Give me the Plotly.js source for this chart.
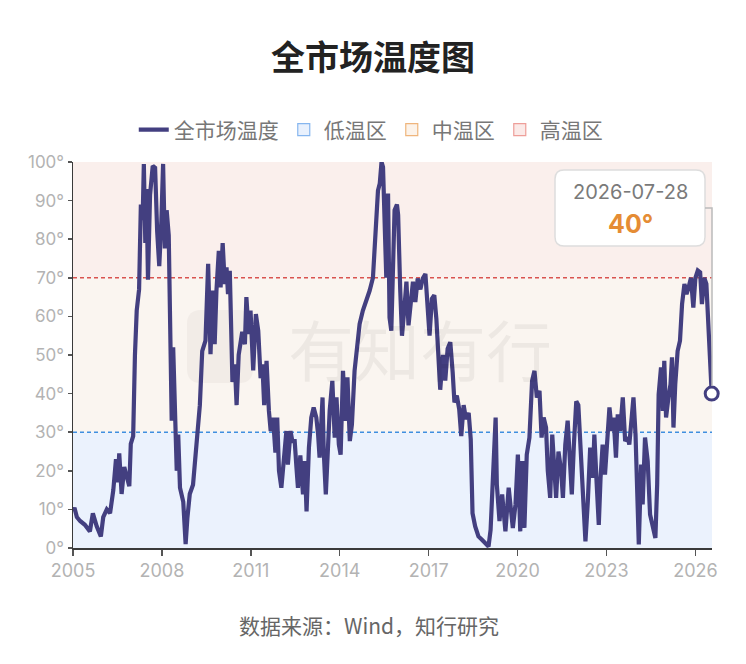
<!DOCTYPE html>
<html>
<head>
<meta charset="utf-8">
<script src="https://cdn.plot.ly/plotly-3.0.1.min.js"></script>
<style>
html,body{margin:0;padding:0;background:#fff;}
#chart{width:746px;height:664px;}
</style>
</head>
<body>
<div id="chart"></div>
<script>
// ---- data ----
var years = [2005.00,2005.05,2005.13,2005.24,2005.40,2005.51,2005.57,2005.67,2005.80,2005.94,2006.02,2006.14,2006.25,2006.36,2006.45,2006.51,2006.56,2006.64,2006.73,2006.81,2006.90,2006.95,2007.03,2007.09,2007.15,2007.23,2007.29,2007.35,2007.39,2007.44,2007.48,2007.53,2007.60,2007.69,2007.77,2007.84,2007.91,2007.98,2008.04,2008.10,2008.16,2008.23,2008.29,2008.33,2008.38,2008.44,2008.50,2008.55,2008.61,2008.72,2008.80,2008.86,2008.94,2009.05,2009.17,2009.28,2009.36,2009.47,2009.56,2009.64,2009.71,2009.78,2009.84,2009.92,2009.98,2010.05,2010.12,2010.18,2010.23,2010.29,2010.38,2010.46,2010.52,2010.59,2010.71,2010.80,2010.85,2010.93,2010.99,2011.08,2011.17,2011.25,2011.33,2011.39,2011.45,2011.53,2011.61,2011.67,2011.75,2011.83,2011.89,2011.95,2012.03,2012.12,2012.20,2012.25,2012.34,2012.40,2012.48,2012.54,2012.59,2012.67,2012.76,2012.82,2012.88,2012.96,2013.04,2013.12,2013.21,2013.27,2013.32,2013.42,2013.46,2013.53,2013.60,2013.66,2013.75,2013.83,2013.89,2013.97,2014.03,2014.11,2014.19,2014.26,2014.34,2014.41,2014.50,2014.58,2014.67,2014.78,2014.90,2015.01,2015.12,2015.24,2015.29,2015.35,2015.41,2015.46,2015.52,2015.57,2015.63,2015.68,2015.74,2015.80,2015.85,2015.93,2015.97,2016.04,2016.10,2016.18,2016.25,2016.32,2016.40,2016.47,2016.55,2016.63,2016.72,2016.80,2016.89,2016.94,2017.03,2017.11,2017.19,2017.26,2017.34,2017.39,2017.48,2017.56,2017.64,2017.73,2017.81,2017.87,2017.95,2018.03,2018.10,2018.18,2018.26,2018.35,2018.42,2018.48,2018.57,2018.68,2018.79,2018.91,2019.02,2019.09,2019.17,2019.26,2019.30,2019.39,2019.48,2019.59,2019.70,2019.78,2019.84,2019.93,2020.01,2020.09,2020.16,2020.23,2020.31,2020.40,2020.49,2020.57,2020.65,2020.74,2020.81,2020.88,2020.96,2021.02,2021.10,2021.17,2021.25,2021.30,2021.38,2021.47,2021.53,2021.61,2021.69,2021.75,2021.83,2021.90,2021.98,2022.05,2022.12,2022.20,2022.29,2022.37,2022.45,2022.54,2022.59,2022.67,2022.74,2022.80,2022.87,2022.95,2023.02,2023.10,2023.18,2023.24,2023.32,2023.38,2023.46,2023.55,2023.63,2023.72,2023.77,2023.85,2023.91,2023.98,2024.03,2024.09,2024.17,2024.22,2024.30,2024.39,2024.47,2024.56,2024.65,2024.71,2024.76,2024.84,2024.90,2024.95,2025.01,2025.09,2025.16,2025.21,2025.26,2025.32,2025.40,2025.48,2025.55,2025.63,2025.70,2025.77,2025.85,2025.93,2026.00,2026.08,2026.16,2026.22,2026.30,2026.37,2026.45,2026.50,2026.55];

var temps = [9.5,10.4,8,7,6,5,4.3,9,5.6,3,8,10,9,15,23,17,24.5,14,21,18.6,16,27,29,50,61.5,67,89,85,99.5,79,93,69.5,91.5,99,98.5,82,73,84.5,99.5,77.6,87.5,81,52,33,52,32,20,29.4,15.6,12,1,7.8,14,16.4,27.7,37,51,53.7,73.6,50.2,66.7,52.8,66.7,77,67.5,79,68.4,72.7,65.8,71.8,43,47.6,37,50,56,52.8,65,55.4,61.5,46,60.6,56.3,44,47.6,37,48.5,35.5,30.3,33.8,24.7,33.8,20,15.6,25,30.3,21.6,30.3,27.7,27.7,20.8,15.6,24,13.9,22.5,9.5,26,33.8,36.4,33.8,29.4,23.4,39,25,13.9,25,35.5,43.3,28.6,39,26.8,24.2,45.9,32.9,44.2,27.7,32,45.9,52.8,58,61.5,64,66.7,70,89,92.6,94.4,100,98.7,85.7,70,91.8,59.7,56.3,74.5,87.5,89,86.3,67,55,62,69,57.7,64.6,69,63.7,69.8,67,69.8,71,64.6,55,64.6,65.5,59.4,46.4,41,50,43.4,51.6,53.3,45.5,37.7,39.5,36,29,37,33.4,35,28.2,9,5.6,3,2.2,1.3,0.4,4.7,20.8,33.8,16.5,7,13.9,4.3,15.6,9.5,5.2,11.3,24.2,4.3,22.5,5.2,24.2,28.6,43.3,45.9,39,40.7,28.6,33.8,31.2,20,13,29.4,20,13,25,20,13,26.8,33,23.4,13.9,26.8,38,37,25,11.3,1.7,12,26,18.2,29.4,16.5,6,18.2,26.8,19,29.4,36.4,30.3,33.8,23.4,34.6,30.3,39,27.7,28.6,26.8,34.6,39,29.4,16.5,0.9,21.6,11.3,28.6,22.5,8.7,6,2.6,16.5,39.8,46.8,35.5,48.5,33.8,39,42.4,49.4,31.2,42.4,51,53.7,63.2,68.4,65.8,67.5,70,62.3,70,71.9,71.4,63.2,70,68.4,56.3,44,40];

var tickYears = [2005, 2008, 2011, 2014, 2017, 2020, 2023, 2026];
var yTicks = [0, 10, 20, 30, 40, 50, 60, 70, 80, 90, 100];
var zoneNames = ['低温区', '中温区', '高温区'];
var zoneBounds = [[0, 30], [30, 70], [70, 100]];
var seriesName = '全市场温度';
var lastDateLabel = '2026-07-28';
var titleText = '全市场温度图';
var sourceText = '数据来源：Wind，知行研究';
var watermarkText = '有知有行';

// ---- styles ----
var W = 746, H = 664;
var M = {l: 73, r: 34, t: 162, b: 116};
var lineColor = '#433f80';
var zoneFill = ['#ebf2fd', '#faf5f0', '#faefec'];
var zoneLegendFill = ['#e9f1fd', '#fcf3ea', '#fbeae8'];
var zoneLegendLine = ['#86b6ef', '#efb57c', '#ee9e99'];

var plotW = W - M.l - M.r, plotH = H - M.t - M.b;
function px2x(px) { return (px - M.l) / plotW; }
function py2y(py) { return (H - M.b - py) / plotH; }

function roundRect(x0, y0, x1, y1, r) {
  var p = [];
  p.push('M', px2x(x0 + r), py2y(y0));
  p.push('L', px2x(x1 - r), py2y(y0));
  p.push('Q', px2x(x1), py2y(y0), px2x(x1), py2y(y0 + r));
  p.push('L', px2x(x1), py2y(y1 - r));
  p.push('Q', px2x(x1), py2y(y1), px2x(x1 - r), py2y(y1));
  p.push('L', px2x(x0 + r), py2y(y1));
  p.push('Q', px2x(x0), py2y(y1), px2x(x0), py2y(y1 - r));
  p.push('L', px2x(x0), py2y(y0 + r));
  p.push('Q', px2x(x0), py2y(y0), px2x(x0 + r), py2y(y0));
  p.push('Z');
  return p.join(' ');
}

var lastX = years[years.length - 1];
var lastY = temps[temps.length - 1];

var traces = [];
traces.push({
  type: 'scatter', mode: 'lines', name: seriesName,
  x: years, y: temps,
  line: {color: lineColor, width: 4.2},
  hoverinfo: 'skip', showlegend: true, cliponaxis: true
});
for (var i = 0; i < zoneNames.length; i++) {
  traces.push({
    type: 'bar', name: zoneNames[i], x: [null], y: [null],
    marker: {color: zoneLegendFill[i], line: {color: zoneLegendLine[i], width: 1.2}},
    showlegend: true, hoverinfo: 'skip'
  });
}
// end marker
traces.push({
  type: 'scatter', mode: 'markers', name: 'last', x: [lastX], y: [lastY], showlegend: false,
  marker: {size: 13, color: '#ffffff', line: {color: lineColor, width: 3}},
  cliponaxis: false, hoverinfo: 'skip'
});

var shapes = [];
for (var j = 0; j < zoneBounds.length; j++) {
  shapes.push({type: 'rect', xref: 'paper', yref: 'y', x0: 0, x1: 1,
    y0: zoneBounds[j][0], y1: zoneBounds[j][1], fillcolor: zoneFill[j],
    line: {width: 0}, layer: 'below'});
}
shapes.push({type: 'line', xref: 'paper', yref: 'y', x0: 0, x1: 1, y0: zoneBounds[0][1], y1: zoneBounds[0][1],
  line: {color: '#3f8fe0', width: 1.4, dash: '4px,3px'}, layer: 'below'});
shapes.push({type: 'line', xref: 'paper', yref: 'y', x0: 0, x1: 1, y0: zoneBounds[2][0], y1: zoneBounds[2][0],
  line: {color: '#d9534f', width: 1.4, dash: '4px,3px'}, layer: 'below'});
// watermark logo
shapes.push({type: 'path', xref: 'paper', yref: 'paper', path: roundRect(187, 310, 253, 383, 14),
  fillcolor: 'rgba(120,110,100,0.06)', line: {width: 0}, layer: 'below'});
// annotation box and connector
shapes.push({type: 'path', xref: 'paper', yref: 'paper', path: roundRect(555, 170, 705, 246, 9),
  fillcolor: '#ffffff', line: {color: '#dddddd', width: 1.5}, layer: 'above'});
shapes.push({type: 'path', xref: 'paper', yref: 'paper',
  path: 'M ' + px2x(705) + ' ' + py2y(208) + ' L ' + px2x(712) + ' ' + py2y(208) + ' L ' + px2x(712) + ' ' + py2y(386),
  line: {color: '#bbbbbb', width: 1.5}, layer: 'above'});

var annotations = [
  {xref: 'paper', yref: 'paper', x: px2x(420), y: py2y(347), text: watermarkText, showarrow: false,
   font: {family: 'Noto Sans CJK SC', size: 66, color: 'rgba(0,0,0,0.05)'}, xanchor: 'center', yanchor: 'middle'},
  {xref: 'paper', yref: 'paper', x: px2x(630), y: py2y(192), text: lastDateLabel, showarrow: false,
   font: {family: 'Inter, Noto Sans CJK SC', size: 20, color: '#7a7a7a'}, xanchor: 'center', yanchor: 'middle'},
  {xref: 'paper', yref: 'paper', x: px2x(630), y: py2y(224), text: '<b>' + lastY + '°</b>', showarrow: false,
   font: {family: 'Inter, Noto Sans CJK SC', size: 25, color: '#e58c34'}, xanchor: 'center', yanchor: 'middle'},
  {xref: 'paper', yref: 'paper', x: px2x(369), y: py2y(625), text: sourceText, showarrow: false,
   font: {family: 'Noto Sans CJK SC', size: 21, color: '#666666'}, xanchor: 'center', yanchor: 'middle'}
];

var layout = {
  width: W, height: H,
  margin: M,
  paper_bgcolor: '#ffffff', plot_bgcolor: '#ffffff',
  font: {family: 'Inter, Noto Sans CJK SC', color: '#888'},
  title: {text: '<b>' + titleText + '</b>', x: 0.5, xref: 'container', y: 1 - 58 / H, yref: 'container',
          xanchor: 'center', yanchor: 'middle',
          font: {family: 'Noto Sans CJK SC', size: 34, color: '#222222'}},
  showlegend: true,
  legend: {orientation: 'h', x: 0.497, xref: 'container', xanchor: 'center', y: 1 - 130 / H, yref: 'container',
           yanchor: 'middle', font: {family: 'Noto Sans CJK SC', size: 21, color: '#777777'},
           itemclick: false, itemdoubleclick: false, traceorder: 'normal', bgcolor: 'rgba(0,0,0,0)'},
  xaxis: {range: [2005, 2026.56], tickvals: tickYears, ticktext: tickYears.map(String),
          showgrid: false, zeroline: false, showline: true, linecolor: '#3a3a3a', linewidth: 1.5,
          ticks: 'outside', ticklen: 6, tickwidth: 1.5, tickcolor: '#555',
          tickfont: {family: 'Inter, sans-serif', size: 18, color: '#b3b3b3'}, fixedrange: true},
  yaxis: {range: [0, 100], tickvals: yTicks, ticktext: yTicks.map(function (v) { return v + '°'; }),
          showgrid: false, zeroline: false, showline: true, linecolor: '#3a3a3a', linewidth: 1.5,
          ticks: 'outside', ticklen: 4, tickwidth: 1.5, tickcolor: '#555',
          tickfont: {family: 'Inter, sans-serif', size: 17, color: '#b3b3b3'}, fixedrange: true},
  shapes: shapes,
  annotations: annotations
};

Plotly.newPlot('chart', traces, layout, {displayModeBar: false, staticPlot: true});
</script>
</body>
</html>
